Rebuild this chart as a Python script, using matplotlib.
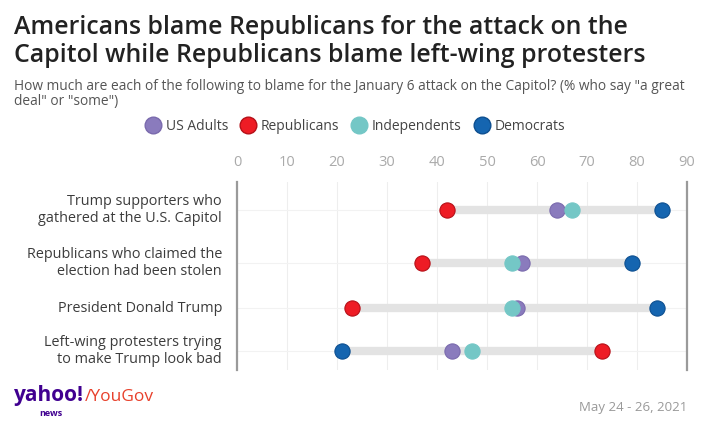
import matplotlib.pyplot as plt
from matplotlib.lines import Line2D

# survey data (% who say "a great deal" or "some")
categories = ["Trump supporters who\ngathered at the U.S. Capitol",
              "Republicans who claimed the\nelection had been stolen",
              "President Donald Trump",
              "Left-wing protesters trying\nto make Trump look bad"]
us_adults = [64, 57, 56, 43]
republicans = [42, 37, 23, 73]
independents = [67, 55, 55, 47]
democrats = [85, 79, 84, 21]
ticks = [0, 10, 20, 30, 40, 50, 60, 70, 80, 90]

series = [("US Adults", us_adults, "#8a7bbd", "#7a6aad"),
          ("Republicans", republicans, "#ee1c25", "#b51018"),
          ("Independents", independents, "#74c7c6", "#74c7c6"),
          ("Democrats", democrats, "#1565b0", "#0d4f90")]

plt.rcParams['font.family'] = ['Open Sans', 'DejaVu Sans']

fig = plt.figure(figsize=(7.05, 4.24), dpi=100)
W, H = 705, 424
ax = fig.add_axes([237 / W, 1 - 370 / H, 450 / W, 188 / H])

# row positions (layout, in axes pixel units from top)
row_y = [28, 81, 126, 169]

ax.set_xlim(0, 90)
ax.set_ylim(188, 0)

for t in ticks[1:-1]:
    ax.axvline(t, color="#eeeeee", lw=0.8, zorder=0)

for i, y in enumerate(row_y):
    ax.axhline(y, color="#f2f2f2", lw=0.8, zorder=0)
    vals = [s[1][i] for s in series]
    ax.plot([min(vals), max(vals)], [y, y], color="#e3e3e3", lw=6,
            solid_capstyle="butt", zorder=1)

for name, vals, col, edge in series:
    ax.scatter(vals, row_y, s=120, color=col, edgecolors=edge, linewidths=0.8,
               zorder=3)

ax.xaxis.tick_top()
ax.set_xticks(ticks)
ax.tick_params(axis="x", length=0, pad=8.5, labelsize=10.5, labelcolor="#aaaaaa")
ax.set_yticks([])
for s in ["top", "bottom"]:
    ax.spines[s].set_visible(False)
for s in ["left", "right"]:
    ax.spines[s].set_color("#9a9a9a")
    ax.spines[s].set_linewidth(1.6)

for cat, y in zip(categories, row_y):
    ax.text(-3.0, y, cat, ha="right", va="center", fontsize=10.4,
            color="#3c3c3c", linespacing=1.15)

fig.text(14 / W, 1 - 27 / H, "Americans blame Republicans for the attack on the",
         fontsize=17.9, fontweight="semibold", color="#222222", va="center")
fig.text(14 / W, 1 - 55 / H, "Capitol while Republicans blame left-wing protesters",
         fontsize=17.9, fontweight="semibold", color="#222222", va="center")
fig.text(14 / W, 1 - 86 / H,
         "How much are each of the following to blame for the January 6 attack on the Capitol? (% who say \"a great",
         fontsize=9.9, color="#555555", va="center")
fig.text(14 / W, 1 - 102 / H, "deal\" or \"some\")",
         fontsize=9.9, color="#555555", va="center")

handles = [Line2D([], [], marker="o", ls="", markersize=12, markerfacecolor=c,
                  markeredgecolor=e, label=n) for n, v, c, e in series]
fig.legend(handles=handles, loc="center", bbox_to_anchor=(352 / W, 1 - 126 / H),
           ncol=4, frameon=False, fontsize=10, handletextpad=-0.1,
           columnspacing=0.45, labelcolor="#444444")

# logo and date
fig.text(14 / W, 1 - 396 / H, "yahoo!", fontsize=15, fontweight="bold",
         color="#400090", va="center")
fig.text(39 / W, 1 - 414 / H, "news", fontsize=6.5, fontweight="bold",
         color="#400090", va="center")
fig.text(85 / W, 1 - 397 / H, "/YouGov", fontsize=12.5, color="#e8412c",
         va="center")
fig.text(687 / W, 1 - 408 / H, "May 24 - 26, 2021", fontsize=9.5,
         color="#999999", ha="right", va="center")

fig.savefig("out.png", dpi=100)
